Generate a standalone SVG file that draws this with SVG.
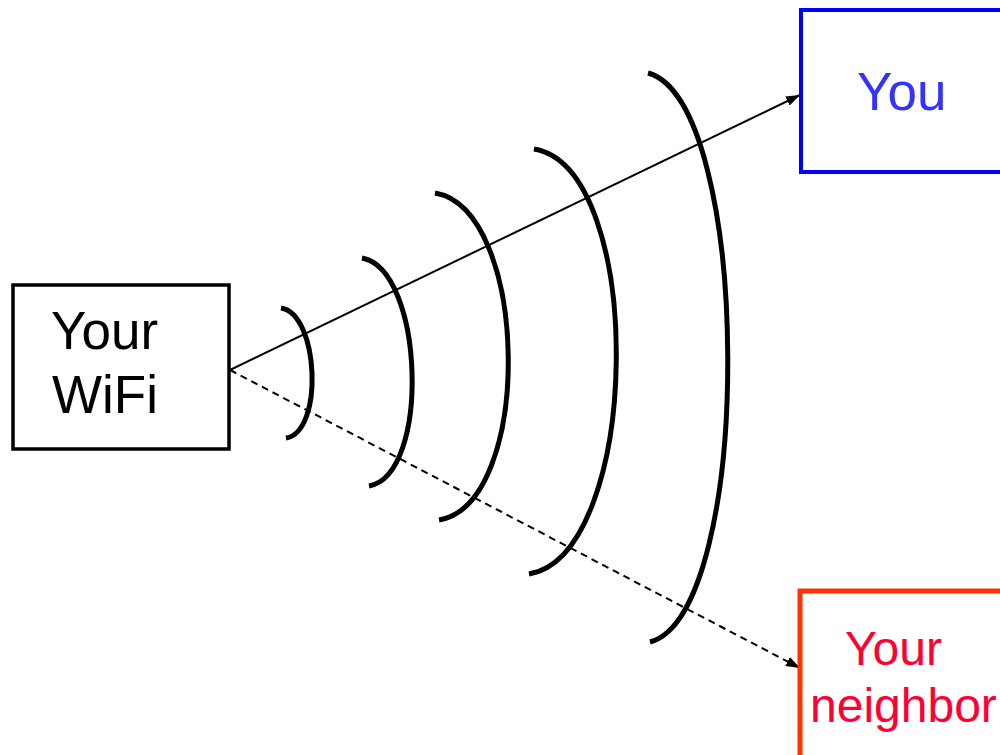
<svg xmlns="http://www.w3.org/2000/svg" width="1000" height="755" viewBox="0 0 1000 755">
<defs>
<marker id="ah" viewBox="0 0 14 10" refX="14" refY="5" markerWidth="14" markerHeight="10" markerUnits="userSpaceOnUse" orient="auto">
<path d="M0,0 L14,5 L0,10 z" fill="#000"/>
</marker>
<style>
.t{font-family:"Liberation Sans",Arial,sans-serif;font-size:53px}
.arc{fill:none;stroke:#000;stroke-width:5}
.box{fill:#fff}
</style>
</defs>
<rect width="1000" height="755" fill="#fff"/>
<g id="waves">
<path class="arc" d="M281,308 C319,314 324,432 286,438"/>
<path class="arc" d="M362,258 C424,269 431,475 369,486"/>
<path class="arc" d="M435,193 C530,209 534,504 439,520"/>
<path class="arc" d="M534,149 C647,168 642,555 529,574"/>
<path class="arc" d="M648,73 C753,101 755,614 650,642"/>
</g>
<g id="connectors">
<line x1="230" y1="370" x2="800" y2="95" stroke="#000" stroke-width="2" marker-end="url(#ah)"/>
<line x1="230" y1="370" x2="800" y2="668" stroke="#000" stroke-width="2" stroke-dasharray="7 5" marker-end="url(#ah)"/>
</g>
<g id="wifi">
<rect x="13" y="285" width="216" height="164" fill="none" stroke="#000" stroke-width="3.5"/>
<text class="t" x="51" y="349" fill="#000">Your</text>
<text class="t" x="52" y="413" fill="#000">WiFi</text>
</g>
<g id="you">
<rect class="box" x="801" y="10" width="230" height="162" stroke="#0000FF" stroke-width="4"/>
<text class="t" x="857" y="110" fill="#3333FF">You</text>
</g>
<g id="neighbor">
<rect class="box" x="800" y="591" width="230" height="200" stroke="#FF3300" stroke-width="5"/>
<text class="t" x="845" y="665" fill="#FF0033" style="font-size:48px">Your</text>
<text class="t" x="810" y="722" fill="#FF0033" style="font-size:48px">neighbor</text>
</g>
</svg>
